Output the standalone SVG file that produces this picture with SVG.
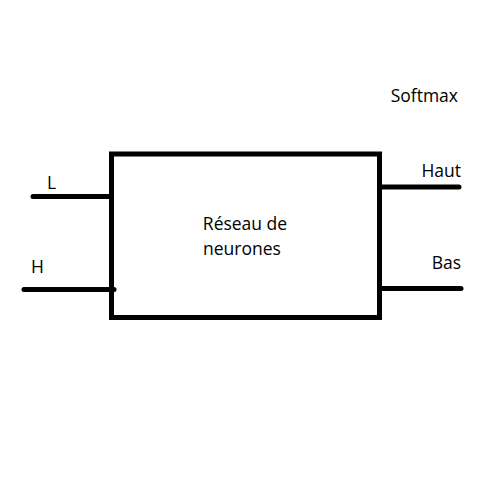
<svg xmlns="http://www.w3.org/2000/svg" width="500" height="500" viewBox="0 0 500 500">
<style>
.ln{stroke:#000;stroke-width:5;stroke-linecap:round;fill:none}
.t{font-family:"Open Sans","Noto Sans",sans-serif;font-size:17.5px;fill:#000}
</style>
<rect width="500" height="500" fill="#fff"/>
<g id="network">
<rect x="111.5" y="154" width="268" height="163.5" fill="#fff" stroke="#000" stroke-width="5"/>
<text class="t" x="245" y="230" text-anchor="middle">Réseau de</text>
<text class="t" x="242" y="255" text-anchor="middle">neurones</text>
</g>
<g id="connectors">
<line class="ln" x1="33" y1="196.5" x2="111" y2="196.5"/>
<line class="ln" x1="24" y1="289.5" x2="114" y2="289.5"/>
<line class="ln" x1="380" y1="187" x2="459" y2="187"/>
<line class="ln" x1="380" y1="288.5" x2="461" y2="288.5"/>
</g>
<g id="label-L"><text class="t" x="47" y="189">L</text></g>
<g id="label-H"><text class="t" x="31" y="273">H</text></g>
<g id="label-softmax"><text class="t" x="458" y="102" text-anchor="end">Softmax</text></g>
<g id="label-haut"><text class="t" x="461" y="177" text-anchor="end">Haut</text></g>
<g id="label-bas"><text class="t" x="461" y="269" text-anchor="end">Bas</text></g>
</svg>
